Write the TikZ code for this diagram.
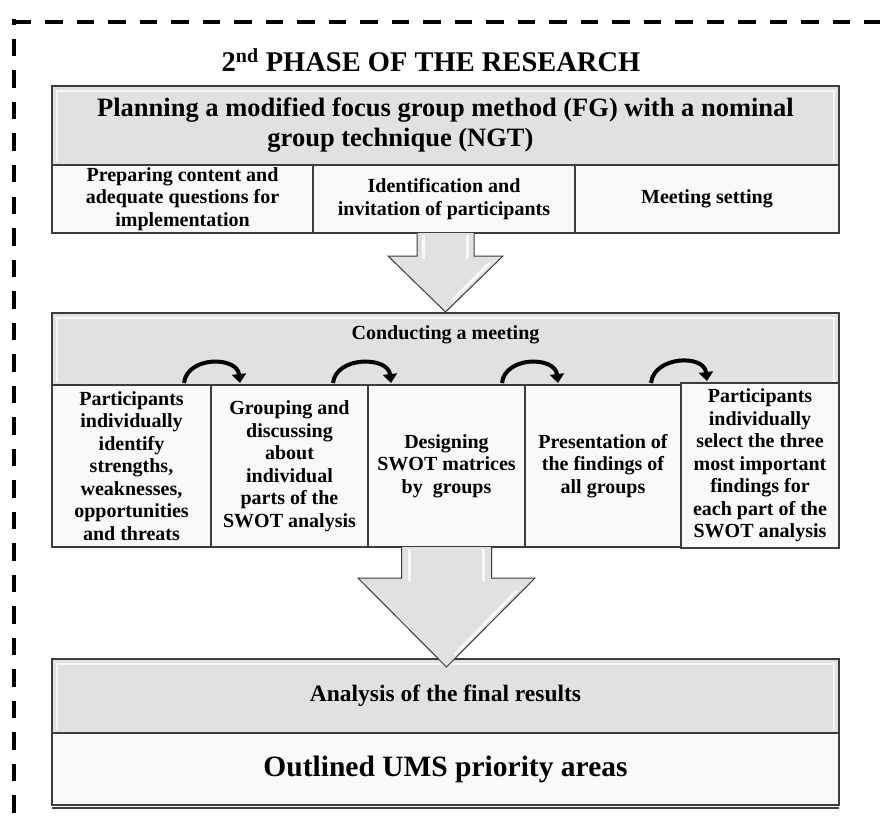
\documentclass[tikz,border=0pt]{standalone}
\usepackage{fontspec}
\setmainfont{Liberation Serif}
\usetikzlibrary{calc, positioning, arrows.meta}
\definecolor{panelGray}{RGB}{225,225,225}
\definecolor{cellWhite}{RGB}{249,249,249}
\definecolor{edgeGray}{RGB}{60,60,60}
\newcommand{\fsz}[2]{\fontsize{#1}{#2}\selectfont}

\begin{document}
\begin{tikzpicture}[x=1pt, y=-1pt,
  panel/.style={draw=edgeGray, line width=1.5pt, fill=panelGray, inner sep=0pt, outer sep=0pt, align=center,
    path picture={\draw[white, line width=2.5pt, opacity=.75]
      ([shift={(5,-3)}]path picture bounding box.south west) -- ([shift={(5,5)}]path picture bounding box.north west)
      -- ([shift={(-5,5)}]path picture bounding box.north east) -- ([shift={(-5,-3)}]path picture bounding box.south east);}},
  cell/.style={draw=edgeGray, line width=1.3pt, fill=cellWhite, inner sep=0pt, outer sep=0pt, align=center,
    font=\bfseries\fsz{20}{22.5}},
  frameLine/.style={line width=4.5pt, dash pattern=on 17.5pt off 14pt},
  loopArrow/.style={line width=4pt, -{Triangle[width=14pt, length=9pt]}},
  blockArrow/.style={draw=edgeGray, line width=1pt, fill=panelGray, line join=miter},
  shine/.style={white, line width=3pt, opacity=.8}
]
  \useasboundingbox (0,0) rectangle (880,821);

  % Dashed frame of the phase
  \draw[frameLine, dash phase=30pt] (12,22) -- (880,22);
  \draw[frameLine, dash phase=12pt] (14,19.5) -- (14,830);

  \node[font=\bfseries\fsz{28.5}{32}] (phaseTitle) at (431,60) {2\textsuperscript{nd} PHASE OF THE RESEARCH};

  % Planning block
  \node[panel, minimum width=787pt, minimum height=79pt, font=\bfseries\fsz{26.5}{30}] (fgHead) at (445.5,125.5)
    {Planning a modified focus group method (FG) with a nominal\\group technique (NGT)\hspace*{90pt}};
  \node[cell, minimum width=261pt, minimum height=68pt] (prepCell) at (182.5,199)
    {Preparing content and\\adequate questions for\\implementation};
  \node[cell, minimum width=262pt, minimum height=68pt] (inviteCell) at (444,199)
    {Identification and\\invitation of participants};
  \node[cell, minimum width=264pt, minimum height=68pt] (settingCell) at (707,199) {Meeting setting};

  % Meeting block
  \node[panel, minimum width=787pt, minimum height=72pt] (meetHead) at (445.5,349) {};
  \node[font=\bfseries\fsz{20}{23}] (meetTitle) at (445.5,335) {Conducting a meeting};
  \node[cell, minimum width=159pt, minimum height=162pt] (partIdent) at (131.5,466)
    {Participants\\individually\\identify\\strengths,\\weaknesses,\\opportunities\\and threats};
  \node[cell, minimum width=157pt, minimum height=162pt] (groupDisc) at (289.5,466)
    {Grouping and\\discussing\\about\\individual\\parts of the\\SWOT analysis};
  \node[cell, minimum width=157pt, minimum height=162pt] (swotDesign) at (446.5,466)
    {Designing\\SWOT matrices\\by~ groups};
  \node[cell, minimum width=156pt, minimum height=162pt] (findPresent) at (603,466)
    {Presentation of\\the findings of\\all groups};
  \node[cell, minimum width=158pt, minimum height=165pt] (topSelect) at (760,465.5)
    {Participants\\individually\\select the three\\most important\\findings for\\each part of the\\SWOT analysis};

  \foreach \a/\b/\s/\e in {partIdent/groupDisc/27/29, groupDisc/swotDesign/35/23,
                           swotDesign/findPresent/23/33, findPresent/topSelect/30/26}
    \draw[loopArrow] ($(\a.north east)+(-\s,-2)$) .. controls +(3,-27) and +(-3,-27) .. ($(\b.north west)+(\e,-2)$);

  % Results block
  \node[panel, minimum width=787pt, minimum height=74pt, font=\bfseries\fsz{23.5}{28}] (resultHead) at (445.5,696)
    {Analysis of the final results};
  \node[cell, minimum width=787pt, minimum height=72pt, font=\bfseries\fsz{29.5}{34}] (areaCell) at (445.5,769)
    {Outlined UMS priority areas};
  \draw[edgeGray, line width=1.3pt] ($(areaCell.south west)+(0,3)$) -- ($(areaCell.south east)+(0,3)$);

  % Block arrows between the stages
  \coordinate (arrA) at ($(inviteCell.south)+(1.5,0)$);
  \filldraw[blockArrow] ($(arrA)+(-28.5,0)$) -- ($(arrA)+(-28.5,23)$) -- ($(arrA)+(-57.5,23)$) -- ($(arrA)+(0,79)$)
    -- ($(arrA)+(57.5,23)$) -- ($(arrA)+(28.5,23)$) -- ($(arrA)+(28.5,0)$);
  \draw[shine] ($(arrA)+(-22,2)$) -- ($(arrA)+(-22,26)$);
  \draw[shine] ($(arrA)+(22,2)$) -- ($(arrA)+(22,26)$);
  \draw[shine] ($(arrA)+(44,30)$) -- ($(arrA)+(6,68)$);

  \coordinate (arrB) at (swotDesign.south);
  \filldraw[blockArrow] ($(arrB)+(-45,0)$) -- ($(arrB)+(-45,31)$) -- ($(arrB)+(-88.5,31)$) -- ($(arrB)+(0,120)$)
    -- ($(arrB)+(88.5,31)$) -- ($(arrB)+(45,31)$) -- ($(arrB)+(45,0)$);
  \draw[shine] ($(arrB)+(-37,2)$) -- ($(arrB)+(-37,34)$);
  \draw[shine] ($(arrB)+(37,2)$) -- ($(arrB)+(37,34)$);
  \draw[shine] ($(arrB)+(70,44)$) -- ($(arrB)+(8,108)$);
\end{tikzpicture}
\end{document}
